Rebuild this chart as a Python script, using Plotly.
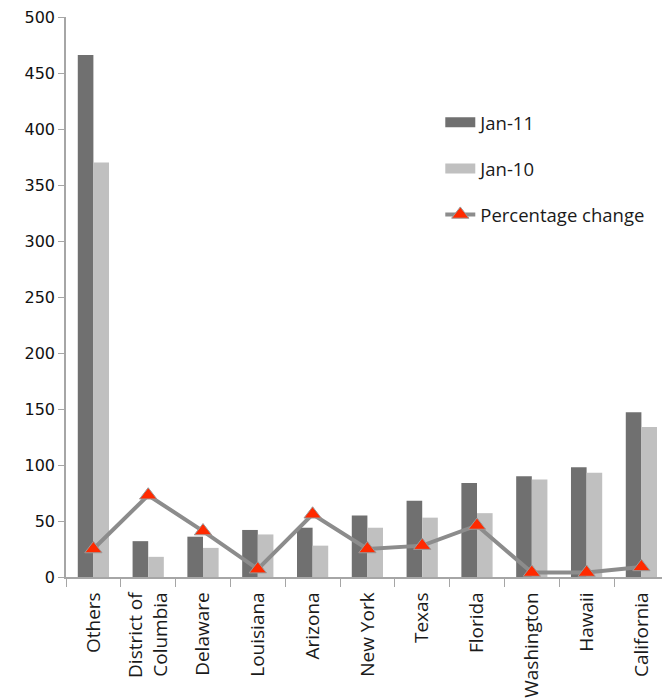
import plotly.graph_objects as go

# Categories along the x axis
states = ["Others", "District of<br>Columbia", "Delaware", "Louisiana", "Arizona",
          "New York", "Texas", "Florida", "Washington", "Hawaii", "California"]

# Series values
jan_11 = [466, 32, 36, 42, 44, 55, 68, 84, 90, 98, 147]
jan_10 = [370, 18, 26, 38, 28, 44, 53, 57, 87, 93, 134]
pct_change = [25, 73, 41, 7, 56, 25, 28, 46, 4, 4, 9]

y_ticks = [0, 50, 100, 150, 200, 250, 300, 350, 400, 450, 500]

DARK = "#707070"
LIGHT = "#c0c0c0"
LINE = "#8c8c8c"
AXIS = "#a6a6a6"

fig = go.Figure()

# Legend entries with wide rectangular swatches for the bar series
fig.add_trace(go.Scatter(x=[None], y=[None], mode="lines", name="Jan-11",
                         line=dict(color=DARK, width=12), legendgroup="a"))
fig.add_trace(go.Scatter(x=[None], y=[None], mode="lines", name="Jan-10",
                         line=dict(color=LIGHT, width=12), legendgroup="b"))

fig.add_trace(go.Bar(x=states, y=jan_11, name="Jan-11", marker_color=DARK,
                     marker_line_width=0, showlegend=False))
fig.add_trace(go.Bar(x=states, y=jan_10, name="Jan-10", marker_color=LIGHT,
                     marker_line_width=0, showlegend=False))
fig.add_trace(go.Scatter(x=states, y=pct_change, name="Percentage change",
                         mode="lines+markers",
                         line=dict(color=LINE, width=4),
                         marker=dict(symbol="triangle-up", size=15, color="#ff2a00",
                                     line=dict(color="#9a9a9a", width=1)),
                         legendgroup="c", showlegend=True))

fig.update_layout(
    width=662, height=698,
    margin=dict(l=66, r=0, t=17, b=121),
    paper_bgcolor="white", plot_bgcolor="white",
    barmode="group", bargap=0.43, bargroupgap=0,
    font=dict(family="Open Sans", color="#1a1a1a"),
    legend=dict(x=0.628, y=0.845, xanchor="left", yanchor="top",
                traceorder="grouped", tracegroupgap=19,
                font=dict(family="Open Sans", size=18.5, color="#1a1a1a"),
                bgcolor="rgba(0,0,0,0)"),
    xaxis=dict(type="category", range=[-0.5, 10.376], tickson="boundaries",
               ticks="outside", ticklen=8, tickcolor=AXIS, showline=True,
               linecolor=AXIS, linewidth=1.5, tickangle=-90, showgrid=False,
               ticklabelstandoff=6,
               tickfont=dict(family="Open Sans", size=19, color="#1a1a1a")),
    yaxis=dict(range=[0, 500], tickvals=y_ticks, ticks="outside", ticklen=6,
               tickcolor=AXIS, showline=True, linecolor=AXIS, linewidth=1.5,
               showgrid=False, zeroline=False,
               tickfont=dict(family="DejaVu Sans", size=16, color="#111111")),
)

fig.write_html("out.html")
